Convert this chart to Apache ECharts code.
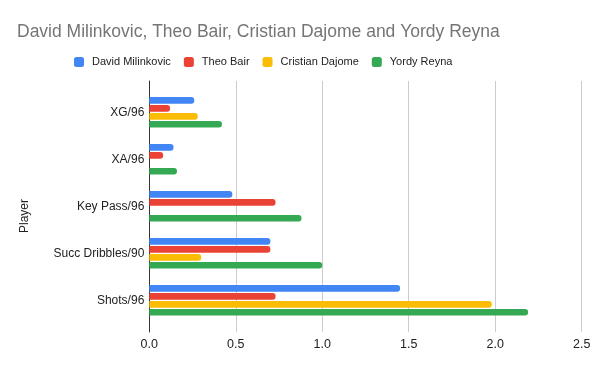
<!DOCTYPE html>
<html>
<head>
<meta charset="utf-8">
<script src="https://cdn.jsdelivr.net/npm/echarts@6/dist/echarts.min.js"></script>
<style>html,body{margin:0;padding:0;background:#fff}#c{width:600px;height:371px}</style>
</head>
<body>
<div id="c"></div>
<script>
const categories = ['XG/96', 'XA/96', 'Key Pass/96', 'Succ Dribbles/90', 'Shots/96'];
const seriesNames = ['David Milinkovic', 'Theo Bair', 'Cristian Dajome', 'Yordy Reyna'];
const milinkovic = [0.26, 0.14, 0.48, 0.70, 1.45];
const bair = [0.12, 0.08, 0.73, 0.70, 0.73];
const dajome = [0.28, null, null, 0.30, 1.98];
const reyna = [0.42, 0.16, 0.88, 1.00, 2.19];
const xTicks = [0, 0.5, 1.0, 1.5, 2.0, 2.5];
const colors = ['#4285F4', '#EA4335', '#FBBC04', '#34A853'];

const FONT = '"Liberation Sans", Arial, sans-serif';
const allValues = [milinkovic, bair, dajome, reyna];

const chart = echarts.init(document.getElementById('c'), null, {renderer: 'canvas'});
chart.setOption({
  animation: false,
  color: colors,
  textStyle: {fontFamily: FONT},
  title: {
    text: 'David Milinkovic, Theo Bair, Cristian Dajome and Yordy Reyna',
    left: 17, top: 23.5, padding: 0,
    textStyle: {fontSize: 17.5, fontWeight: 'normal', color: '#757575', fontFamily: FONT}
  },
  legend: {
    data: seriesNames,
    left: 74, top: 56.5, padding: 0,
    itemWidth: 10, itemHeight: 10, itemGap: 13,
    icon: 'roundRect',
    textStyle: {fontSize: 11, color: '#222', fontFamily: FONT, padding: [0, 0, 0, 3]}
  },
  graphic: [{
    type: 'text', x: 25, y: 216, rotation: Math.PI / 2,
    style: {text: 'Player', fontSize: 12, fill: '#222', fontFamily: FONT, align: 'center', verticalAlign: 'middle'}
  }],
  grid: [
    {left: 149.3, right: 18.3, top: 88.8, bottom: 47.2},
    {left: 149.3, right: 18.3, top: 81, bottom: 39}
  ],
  xAxis: [
    {gridIndex: 0, type: 'value', min: xTicks[0], max: xTicks[xTicks.length - 1], interval: 0.5, show: false},
    {gridIndex: 1, type: 'value', min: xTicks[0], max: xTicks[xTicks.length - 1], interval: 0.5,
      axisLine: {show: false}, axisTick: {show: false},
      splitLine: {show: true, lineStyle: {color: '#cccccc', width: 1}},
      axisLabel: {fontSize: 12.5, color: '#222', margin: 6, fontFamily: FONT, formatter: v => v.toFixed(1)}
    }
  ],
  yAxis: [
    {gridIndex: 0, type: 'category', data: categories, inverse: true,
      axisLine: {show: false}, axisTick: {show: false}, splitLine: {show: false},
      axisLabel: {fontSize: 12, color: '#222', margin: 5, fontFamily: FONT}
    },
    {gridIndex: 1, type: 'value', min: 0, max: 1,
      axisLine: {show: true, lineStyle: {color: '#333', width: 1}},
      axisTick: {show: false}, axisLabel: {show: false}, splitLine: {show: false}
    }
  ],
  series: seriesNames.map((n, i) => ({
    name: n, type: 'bar', xAxisIndex: 0, yAxisIndex: 0,
    data: allValues[i],
    barWidth: 6.7, barGap: '19%',
    itemStyle: {color: colors[i], borderRadius: [0, 3, 3, 0]}
  }))
});
</script>
</body>
</html>
